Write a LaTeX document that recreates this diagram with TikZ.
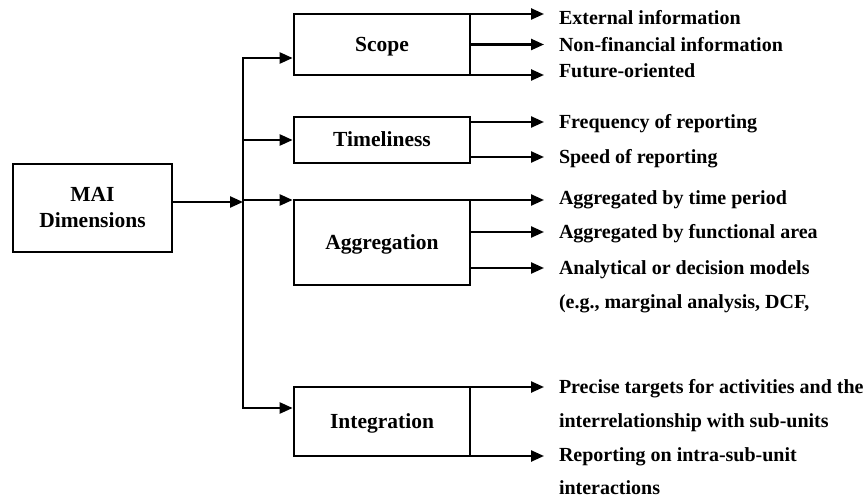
\documentclass[tikz,border=0pt]{standalone}
\usepackage{fontspec}
\setmainfont{Liberation Serif}
\usetikzlibrary{arrows.meta}
\begin{document}
\begin{tikzpicture}[x=1pt,y=-1pt,
  box/.style={draw, line width=2.7pt, outer sep=0pt, inner sep=0pt, minimum width=176pt,
    font=\fontsize{21.5}{26}\selectfont\bfseries, text height=14pt, text depth=0pt},
  mainbox/.style={draw, line width=2.7pt, outer sep=0pt, inner sep=0pt, align=center,
    font=\fontsize{21.5}{26}\selectfont\bfseries},
  item/.style={anchor=west, inner sep=0pt, outer xsep=15pt, outer ysep=0pt,
    font=\fontsize{20}{24}\selectfont\bfseries, text height=13.5pt, text depth=0pt},
  arr/.style={line width=2.4pt, -{Triangle[length=13pt,width=11pt]}},
  arrin/.style={arr, shorten >=1.35pt},
  trunk/.style={line width=2.4pt, line cap=rect}]
\useasboundingbox (0,0) rectangle (867,497);

% boxes
\node[mainbox, minimum width=159pt, minimum height=88pt] (mai) at (92.5,208) {MAI\\Dimensions};
\node[box, minimum height=61pt] (scope) at (382,44.5) {Scope};
\node[box, minimum height=46pt] (time) at (382,140) {Timeliness};
\node[box, minimum height=85pt] (agg) at (382,242.5) {Aggregation};
\node[box, minimum height=69pt] (integ) at (382,421.5) {Integration};

% trunk
\coordinate (tTop) at (243,58);
\coordinate (tBot) at (243,408);
\coordinate (tMai) at (243,202);
\coordinate (tAgg) at (243,200);

\draw[arr] (mai.east |- tMai) -- (tMai);
\draw[trunk] (tTop) -- (tBot);
\draw[arrin] (tTop) -- (scope.west |- tTop);
\draw[arrin] (time.west -| tTop) -- (time.west);
\draw[arrin] (tAgg) -- (agg.west |- tAgg);
\draw[arrin] (tBot) -- (integ.west |- tBot);

% items
\node[item] (e1) at (544,18) {External information};
\node[item] (e2) at (544,45) {Non-financial information};
\node[item] (e3) at (544,71) {Future-oriented};
\node[item] (f1) at (544,122) {Frequency of reporting};
\node[item] (f2) at (544,157) {Speed of reporting};
\node[item] (g1) at (544,198) {Aggregated by time period};
\node[item] (g2) at (544,232) {Aggregated by functional area};
\node[item] (g3) at (544,268) {Analytical or decision models};
\node[item] (g4) at (544,302) {(e.g., marginal analysis, DCF,};
\node[item] (h1) at (544,387) {Precise targets for activities and the};
\node[item] (h2) at (544,421) {interrelationship with sub-units};
\node[item] (h3) at (544,455) {Reporting on intra-sub-unit};
\node[item] (h4) at (544,488) {interactions};

% right arrows
\draw[arr] (scope.north east) -- (scope.north east -| e1.west);
\draw[arr] (scope.east) -- (scope.east -| e2.west);
\draw[arr] (scope.south east) -- (scope.south east -| e3.west);
\draw[arr] (time.east |- f1.west) -- (f1.west);
\draw[arr] (time.east |- f2.west) -- (f2.west);
\draw[arr] (agg.north east) -- (agg.north east -| g1.west);
\draw[arr] (agg.east |- g2.west) -- (g2.west);
\draw[arr] (agg.east |- g3.west) -- (g3.west);
\draw[arr] (integ.north east) -- (integ.north east -| h1.west);
\draw[arr] (integ.south east) -- (integ.south east -| h3.west);
\end{tikzpicture}
\end{document}
